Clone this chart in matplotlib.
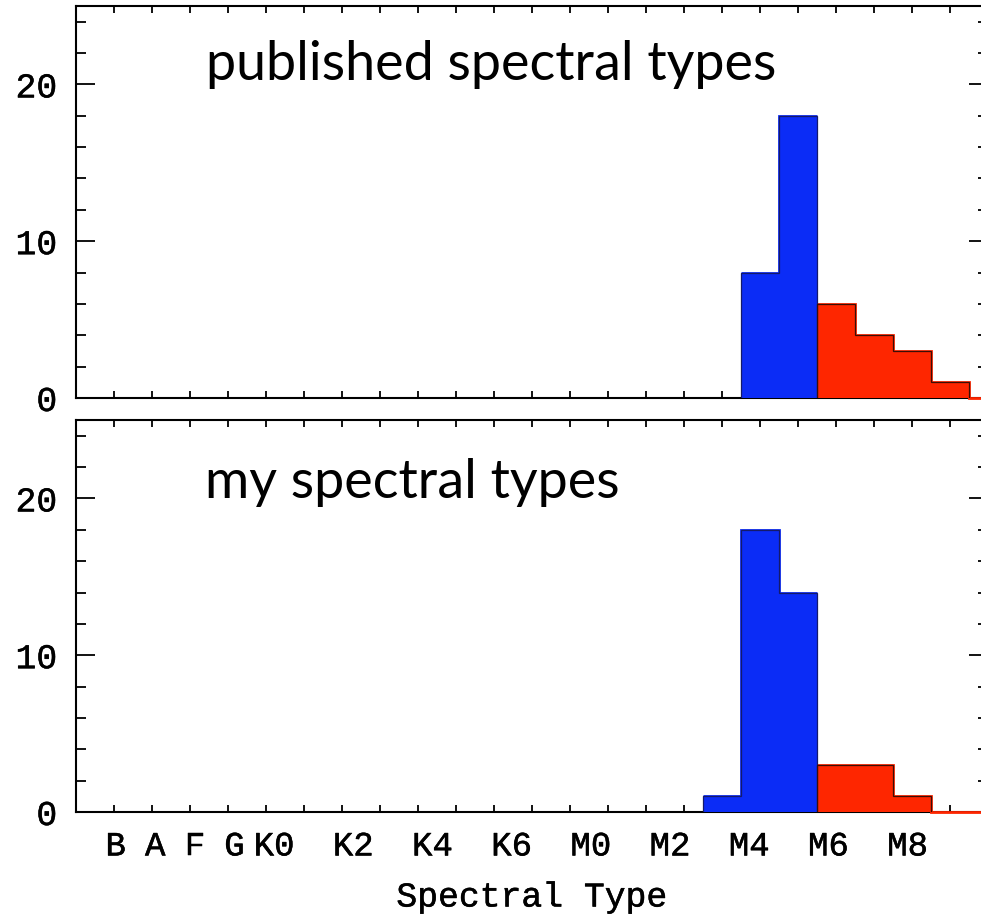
import numpy as np
import matplotlib.pyplot as plt
import matplotlib.patheffects as pe
from matplotlib.ticker import MultipleLocator

# spectral type axis: one unit per subclass step, labels on every other step from K0 on
type_labels = ['B', 'A', 'F', 'G', 'K0', 'K2', 'K4', 'K6', 'M0', 'M2', 'M4', 'M6', 'M8']
type_index = [1, 2, 3, 4, 5, 7, 9, 11, 13, 15, 17, 19, 21]

# histogram counts per bin (bin centres on integer type index)
pub_blue_bins = [18, 19]
pub_blue = [8, 18]
pub_red_bins = [20, 21, 22, 23, 24]
pub_red = [6, 4, 3, 1, 0]

my_blue_bins = [17, 18, 19]
my_blue = [1, 18, 14]
my_red_bins = [20, 21, 22, 23, 24]
my_red = [3, 3, 1, 0, 0]

BLUE = '#0b2cf6'
RED = '#fe2600'
BLUE_EDGE = '#141a6a'
RED_EDGE = '#3a0e06'
MONO = 'Liberation Mono'
LABEL_STRETCH = 1.042   # label spacing slightly wider than tick spacing
THICK = [pe.withStroke(linewidth=0.35, foreground='black')]


def edges_for(bins):
    b = np.asarray(bins, dtype=float)
    return np.append(b - 0.5, b[-1] + 0.5)


def draw_hist(ax, bins, counts, color, edge):
    counts = np.asarray(counts, dtype=float)
    edges = edges_for(bins)
    ax.stairs(counts, edges, fill=True, color=color, lw=0, zorder=3)
    ax.stairs(counts, edges, color=color, lw=2, baseline=None, zorder=3,
              clip_on=False)
    # dark outline up to the last filled bin, empty tail stays in colour
    hi = np.nonzero(counts)[0].max()
    ax.stairs(counts[:hi + 1], edges[:hi + 2], color=edge, lw=0.9,
              baseline=0, zorder=3.1)


def style_axes(ax, show_labels):
    ax.set_xlim(0, 24)
    ax.set_ylim(0, 25)
    for s in ax.spines.values():
        s.set_linewidth(1.5)
    ax.yaxis.set_major_locator(MultipleLocator(10))
    ax.yaxis.set_minor_locator(MultipleLocator(2))
    ax.tick_params(axis='y', which='major', direction='in', length=13.5,
                   width=1.3, left=True, right=True, pad=13.5)
    ax.tick_params(axis='y', which='minor', direction='in', length=7,
                   width=1.3, left=True, right=True)
    ax.set_yticks([0, 10, 20])
    ax.set_yticklabels(['0', '10', '20'], fontfamily=MONO, fontsize=25)
    ax.xaxis.set_minor_locator(MultipleLocator(1))
    ax.tick_params(axis='x', which='minor', direction='in', length=5,
                   width=1.3, top=True, bottom=True)
    ax.set_xticks([k * LABEL_STRETCH for k in type_index])
    ax.tick_params(axis='x', which='major', length=0, pad=14,
                   labelbottom=show_labels)
    if show_labels:
        ax.set_xticklabels(type_labels, fontfamily=MONO, fontsize=24.5)
    for t in ax.get_xticklabels() + ax.get_yticklabels():
        t.set_path_effects(THICK)


fig = plt.figure(figsize=(9.81, 9.24), dpi=100)
ax_top = fig.add_axes([0.0775, 0.5693, 0.9297, 0.4242])
ax_bot = fig.add_axes([0.0775, 0.1212, 0.9297, 0.4242])

draw_hist(ax_top, pub_blue_bins, pub_blue, BLUE, BLUE_EDGE)
draw_hist(ax_top, pub_red_bins, pub_red, RED, RED_EDGE)
draw_hist(ax_bot, my_blue_bins, my_blue, BLUE, BLUE_EDGE)
draw_hist(ax_bot, my_red_bins, my_red, RED, RED_EDGE)

style_axes(ax_top, False)
style_axes(ax_bot, True)

ax_top.text(0.143, 0.811, 'published spectral types', transform=ax_top.transAxes,
            fontfamily='Lato', fontsize=38.8, va='baseline', ha='left')
ax_bot.text(0.141, 0.801, 'my spectral types', transform=ax_bot.transAxes,
            fontfamily='Lato', fontsize=38.8, va='baseline', ha='left')

xl = ax_bot.set_xlabel('Spectral Type', fontfamily=MONO, fontsize=25,
                       labelpad=13)
xl.set_path_effects(THICK)

fig.savefig('out.png', dpi=100)
